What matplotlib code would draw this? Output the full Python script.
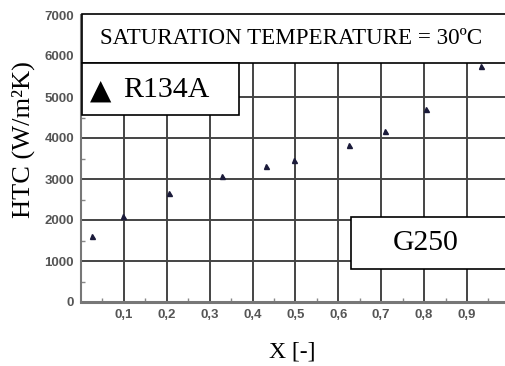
import matplotlib
matplotlib.use("Agg")
import matplotlib.pyplot as plt
from matplotlib.patches import Rectangle
from matplotlib.ticker import MultipleLocator, FuncFormatter

# vapour quality vs heat transfer coefficient, R134A in G250
quality = [0.026, 0.098, 0.205, 0.329, 0.431, 0.497, 0.625, 0.709, 0.804, 0.932]
htc = [1610, 2100, 2660, 3070, 3320, 3460, 3830, 4170, 4700, 5760]

W, H = 506, 366
fig = plt.figure(figsize=(W / 100, H / 100), dpi=100)


def fx(px):
    return px / W


def fy(py):
    return 1 - py / H


ax = fig.add_axes([fx(81), fy(302), fx(506 - 81), (302 - 15) / H])
ax.set_xlim(0, 0.991)
ax.set_ylim(0, 7000)

ax.xaxis.set_major_locator(MultipleLocator(0.1))
ax.xaxis.set_minor_locator(MultipleLocator(0.05))
ax.yaxis.set_major_locator(MultipleLocator(1000))
ax.yaxis.set_minor_locator(MultipleLocator(500))
ax.xaxis.set_major_formatter(FuncFormatter(
    lambda v, p: "" if v < 0.05 else f"{v:.1f}".replace(".", ",")))

ax.grid(True, which="major", color="#444444", linewidth=1.4)
ax.set_axisbelow(True)
ax.tick_params(which="both", direction="in", colors="#888888",
               labelcolor="#555555")
ax.tick_params(which="major", length=0, pad=5)
ax.tick_params(which="minor", length=3, width=1)
for lab in ax.get_xticklabels() + ax.get_yticklabels():
    lab.set_fontfamily("Liberation Sans")
    lab.set_fontweight("bold")
    lab.set_fontsize(9.5)

for side in ["top", "right"]:
    ax.spines[side].set_visible(False)
ax.spines["left"].set_color("#777777")
ax.spines["left"].set_linewidth(1.5)
ax.spines["bottom"].set_color("#777777")
ax.spines["bottom"].set_linewidth(2.2)

ax.plot(quality, htc, linestyle="none", marker="^", markersize=3.6,
        color="#1b1b3a", clip_on=False, zorder=3)

serif = "Liberation Serif"

fig.text(fx(23), fy(140), "HTC (W/m\u00b2K)", rotation=90,
         ha="center", va="center", family=serif, fontsize=19)
fig.text(fx(292), fy(352), "X [-]", ha="center", va="center",
         family=serif, fontsize=17)


def box(x0, y0, x1, y1):
    fig.patches.append(Rectangle((fx(x0), fy(y1)), fx(x1 - x0), (y1 - y0) / H,
                                 transform=fig.transFigure, facecolor="white",
                                 edgecolor="black", linewidth=1.2, zorder=5))


box(82, 14, 520, 63)
fig.text(fx(291), fy(38), "SATURATION TEMPERATURE = 30\u00baC", ha="center",
         va="center", family=serif, fontsize=16.6, zorder=6)

box(82, 63, 239, 115)
fig.text(fx(101), fy(91), "\u25b2", ha="center", va="center",
         family="DejaVu Sans", fontsize=20, zorder=6)
fig.text(fx(123), fy(90), "R134A", ha="left", va="center",
         family=serif, fontsize=21.5, zorder=6)

box(351, 217, 520, 269)
fig.text(fx(426), fy(243), "G250", ha="center", va="center",
         family=serif, fontsize=21.4, zorder=6)

fig.savefig("out.png", dpi=100)
